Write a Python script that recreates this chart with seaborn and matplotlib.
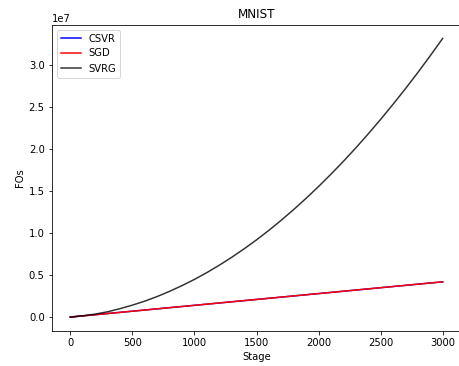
import matplotlib
matplotlib.use("Agg")
import matplotlib.pyplot as plt
import seaborn as sns
import pandas as pd

# Data
stages = [0, 100, 200, 300, 400, 500, 600, 700, 800, 900, 1000, 1100, 1200, 1300, 1400, 1500,
          1600, 1700, 1800, 1900, 2000, 2100, 2200, 2300, 2400, 2500, 2600, 2700, 2800, 2900, 3000]
csvr = [0.0, 0.14e6, 0.28e6, 0.42e6, 0.56e6, 0.70e6, 0.84e6, 0.98e6, 1.12e6, 1.26e6, 1.40e6,
        1.54e6, 1.68e6, 1.82e6, 1.96e6, 2.10e6, 2.24e6, 2.38e6, 2.52e6, 2.66e6, 2.80e6,
        2.94e6, 3.08e6, 3.22e6, 3.36e6, 3.50e6, 3.64e6, 3.78e6, 3.92e6, 4.06e6, 4.20e6]
sgd = [0.0, 0.14e6, 0.28e6, 0.42e6, 0.56e6, 0.70e6, 0.84e6, 0.98e6, 1.12e6, 1.26e6, 1.40e6,
       1.54e6, 1.68e6, 1.82e6, 1.96e6, 2.10e6, 2.24e6, 2.38e6, 2.52e6, 2.66e6, 2.80e6,
       2.94e6, 3.08e6, 3.22e6, 3.36e6, 3.50e6, 3.64e6, 3.78e6, 3.92e6, 4.06e6, 4.20e6]
svrg = [0.0, 0.15e6, 0.35e6, 0.63e6, 1.00e6, 1.42e6, 1.90e6, 2.45e6, 3.07e6, 3.75e6, 4.49e6,
        5.30e6, 6.18e6, 7.12e6, 8.13e6, 9.20e6, 10.34e6, 11.55e6, 12.82e6, 14.16e6, 15.56e6,
        17.03e6, 18.56e6, 20.16e6, 21.83e6, 23.56e6, 25.36e6, 27.22e6, 29.15e6, 31.15e6, 33.21e6]

plt.rcParams['font.family'] = ['DejaVu Sans']

fig = plt.figure(figsize=(459/72, 366/72), dpi=72)
ax = fig.add_axes([51.7/459, 1 - 331/366, (461.3 - 51.7)/459, (331 - 24.5)/366])

df = pd.DataFrame({"Stage": stages, "CSVR": csvr, "SGD": sgd, "SVRG": svrg})
sns.lineplot(data=df, x="Stage", y="CSVR", ax=ax, color="blue", label="CSVR")
sns.lineplot(data=df, x="Stage", y="SGD", ax=ax, color="red", label="SGD")
sns.lineplot(data=df, x="Stage", y="SVRG", ax=ax, color="black", alpha=0.8, label="SVRG")

ax.set_title("MNIST", fontsize=12)
ax.set_xlabel("Stage", fontsize=10)
ax.set_ylabel("FOs", fontsize=10)
ax.tick_params(labelsize=10)
ax.legend(loc="upper left", fontsize=10)

fig.savefig("out.png", dpi=72)
